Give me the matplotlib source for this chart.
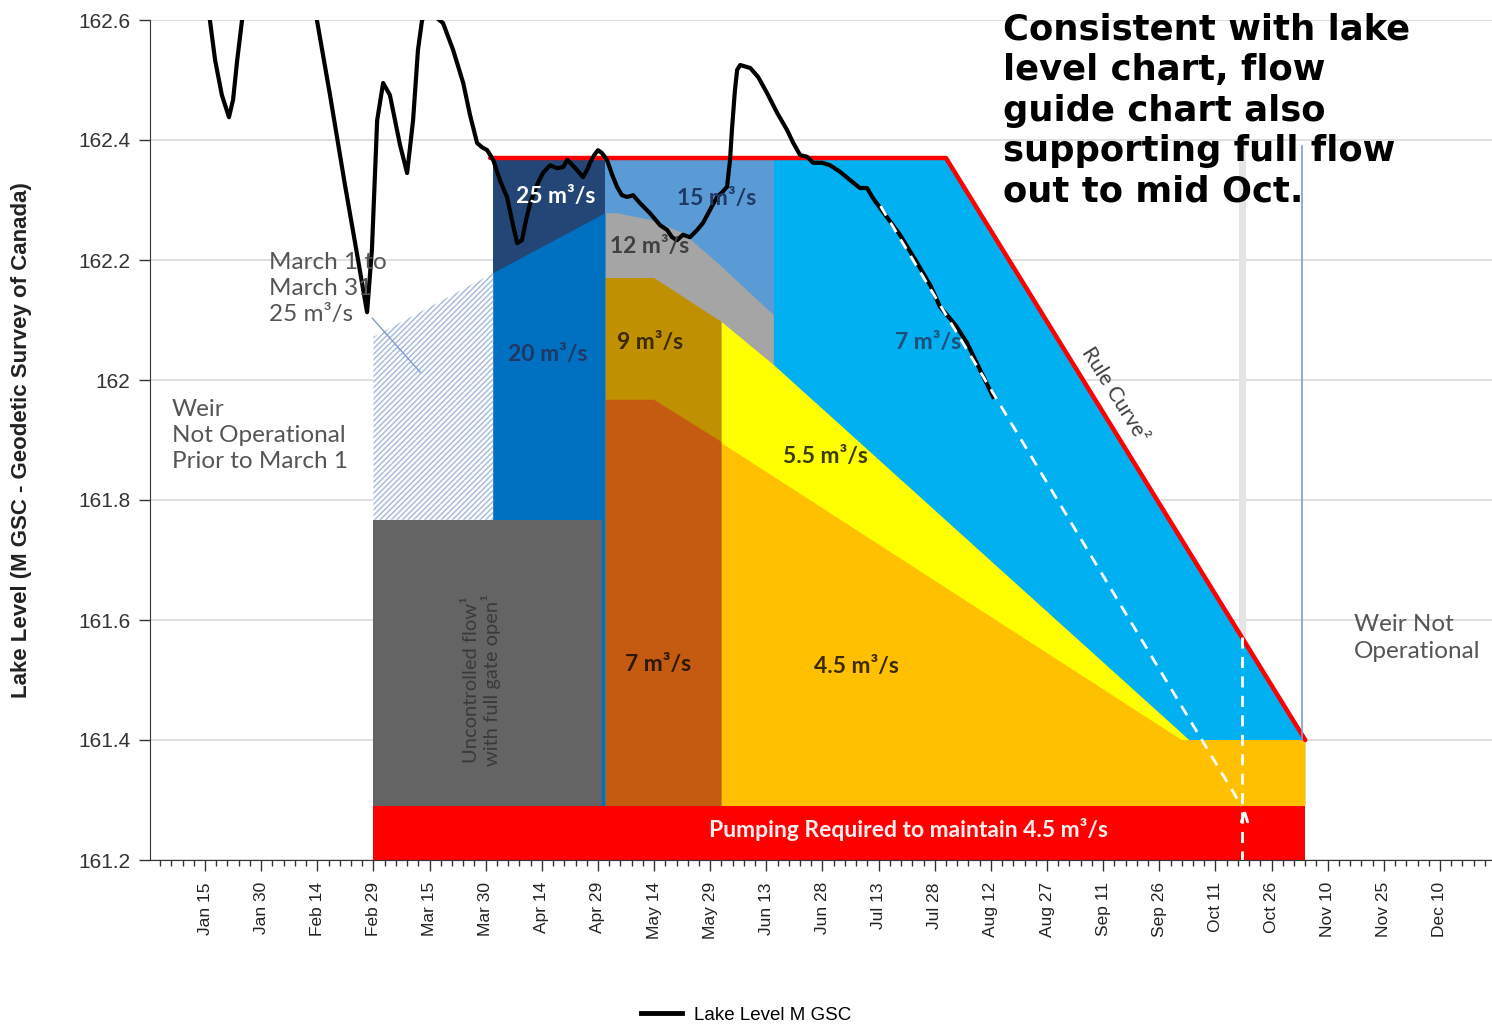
import datetime as dt

import matplotlib
matplotlib.use("Agg")
import matplotlib.pyplot as plt
from matplotlib.ticker import FixedLocator
from matplotlib.lines import Line2D

# x axis = day of year, 0 = Jan 1 (2024 is a leap year, so Feb 29 exists)
year_start = dt.date(2024, 1, 1)

lake_day = [10, 15.3, 16.7, 18.5, 20.4, 21.5, 22.6, 23.9, 30, 40, 43.9, 47.4, 51.4, 54.9,
            57.3, 58.6, 60.0, 61.6, 63.4, 66.1, 68.0, 69.6, 70.9, 72.0, 74.0, 76.0, 77.6,
            80.3, 83.0, 84.8, 86.7, 88.0, 89.4, 91.0, 92.8, 94.7, 96.0, 97.4, 98.7, 99.8,
            100.9, 102.7, 104.3, 106.2, 108.1, 109.7, 110.8, 111.6, 113.4, 115.0, 116.1,
            116.9, 118.0, 119.0, 120.1, 121.4, 122.8, 124.1, 125.4, 126.8, 128.4, 130.2,
            132.9, 135.6, 137.5, 138.8, 140.1, 141.7, 143.6, 145.5, 147.1, 148.9, 150.8,
            152.2, 153.5, 154.3, 154.8, 155.6, 156.2, 157.0, 159.7, 161.8, 164.2, 166.9,
            169.5, 171.2, 173.0, 174.9, 176.5, 178.9, 181.0, 183.7, 186.4, 189.0, 190.9,
            192.5, 195.2, 199.7, 204.3, 207.8, 210.4, 214.5, 217.6, 221.1, 224.6]
lake_level = [162.75, 162.60, 162.533, 162.475, 162.438, 162.467, 162.533, 162.60, 162.75,
              162.75, 162.60, 162.475, 162.325, 162.20, 162.113, 162.217, 162.433, 162.495,
              162.475, 162.392, 162.345, 162.433, 162.55, 162.60, 162.615, 162.603, 162.595,
              162.55, 162.495, 162.442, 162.395, 162.388, 162.383, 162.367, 162.333, 162.305,
              162.267, 162.228, 162.233, 162.267, 162.295, 162.325, 162.345, 162.358,
              162.353, 162.355, 162.367, 162.362, 162.35, 162.338, 162.35, 162.362, 162.375,
              162.383, 162.378, 162.367, 162.342, 162.322, 162.308, 162.305, 162.308,
              162.295, 162.278, 162.258, 162.25, 162.238, 162.233, 162.242, 162.238, 162.25,
              162.262, 162.283, 162.305, 162.313, 162.322, 162.367, 162.417, 162.483,
              162.517, 162.525, 162.52, 162.505, 162.478, 162.445, 162.417, 162.395,
              162.375, 162.372, 162.362, 162.362, 162.358, 162.347, 162.333, 162.32,
              162.32, 162.303, 162.28, 162.242, 162.195, 162.158, 162.122, 162.092,
              162.062, 162.017, 161.972]

# trend extrapolation and mid-October marker
trend_day = [194.5, 291]
trend_level = [162.29, 161.29]
oct_day = 291
oct_top = 161.572

# rule curve
rule_day = [90.2, 212, 308]
rule_level = [162.37, 162.37, 161.40]

# weir not operational line
weir_day = 307.2
weir_levels = [162.39, 161.40]

# flow guide zones (polygons: day, level)
zone7c_x = [166, 166, 212, 308, 308]
zone7c_y = [161.29, 162.37, 162.37, 161.40, 161.29]
zone15_x = [121, 121, 166, 166]
zone15_y = [161.29, 162.37, 162.37, 161.29]
zone12_x = [121, 121, 124, 133, 141.7, 151, 166, 166]
zone12_y = [161.29, 162.278, 162.278, 162.267, 162.245, 162.195, 162.108, 161.29]
zone55_x = [152, 152, 166, 277, 308, 308]
zone55_y = [161.29, 162.097, 162.025, 161.40, 161.40, 161.29]
zone45_x = [152, 152, 275, 308, 308]
zone45_y = [161.29, 161.895, 161.40, 161.40, 161.29]
zone9_x = [121, 121, 134, 152, 152]
zone9_y = [161.29, 162.17, 162.17, 162.097, 161.29]
zone7o_x = [121, 121, 134, 152, 152]
zone7o_y = [161.29, 161.967, 161.967, 161.897, 161.29]
zone25_x = [91, 91, 121, 121]
zone25_y = [161.29, 162.37, 162.37, 161.29]
zone20_x = [91, 91, 121, 121]
zone20_y = [161.29, 162.178, 162.278, 161.29]
march_x = [59, 59, 91, 91]
march_y = [161.767, 162.072, 162.178, 161.767]
uncontrolled_x = [59, 59, 120, 120]
uncontrolled_y = [161.29, 161.767, 161.767, 161.29]
pump_x = [59, 59, 308, 308]
pump_y = [161.20, 161.29, 161.29, 161.20]

major_days = list(range(14, 360, 15))
minor_days = list(range(2, 360, 3))
y_ticks = [161.2, 161.4, 161.6, 161.8, 162.0, 162.2, 162.4, 162.6]


def day_label(d):
    t = year_start + dt.timedelta(days=d)
    return f"{t:%b} {t.day}"


def ylab(v):
    s = f"{v:.1f}"
    return "162" if s == "162.0" else s


plt.rcParams["hatch.linewidth"] = 1.0
fig = plt.figure(figsize=(14.92, 10.27), dpi=100)
ax = fig.add_axes([150 / 1492, 1 - 860 / 1027, 1342 / 1492, 840 / 1027])
ax.set_xlim(-0.7, 357.9)
ax.set_ylim(161.2, 162.6)

ax.plot([oct_day, oct_day], [162.383, 161.2], color="#E4E4E4", lw=5, zorder=1.5)

ax.fill(zone7c_x, zone7c_y, color="#00B0F0", lw=0, zorder=2)
ax.fill(zone15_x, zone15_y, color="#5B9BD5", lw=0, zorder=2)
ax.fill(zone12_x, zone12_y, color="#A5A5A5", lw=0, zorder=2)
ax.fill(zone55_x, zone55_y, color="#FFFF00", lw=0, zorder=2)
ax.fill(zone45_x, zone45_y, color="#FFC000", lw=0, zorder=2)
ax.fill(zone9_x, zone9_y, color="#BF9000", lw=0, zorder=2)
ax.fill(zone7o_x, zone7o_y, color="#C55A11", lw=0, zorder=2)
ax.fill(zone25_x, zone25_y, color="#234677", lw=0, zorder=2)
ax.fill(zone20_x, zone20_y, color="#0070C0", lw=0, zorder=2)
ax.fill(march_x, march_y, facecolor="white", edgecolor="#A3B7DD", hatch="//////",
        lw=0, zorder=2)
ax.fill(uncontrolled_x, uncontrolled_y, color="#646464", lw=0, zorder=2)
ax.fill(pump_x, pump_y, color="#FF0000", lw=0, zorder=2)

ax.plot(rule_day, rule_level, color="#FF0000", lw=3.2, zorder=3, solid_capstyle="round")
ax.plot([weir_day, weir_day], weir_levels, color="#7F9CD3", lw=1.2, zorder=3)
ax.plot([oct_day, oct_day], [oct_top, 161.2], color="white", lw=2, ls=(0, (4, 3)), zorder=5)

ax.plot(lake_day, lake_level, color="black", lw=3.0, zorder=4, label="Lake Level M GSC")
ax.plot(trend_day, trend_level, color="white", lw=2, ls=(0, (4, 3)), zorder=5)
ax.plot([oct_day + 0.6], [161.272], marker=r"$\wedge$", color="white", ms=7, zorder=5)

# March leader line
ax.plot([58.7, 71.5], [162.103, 162.013], color="#7F9CC8", lw=1, zorder=3)

# axes styling
ax.grid(axis="y", color="#D9D9D9", lw=1.2)
ax.set_axisbelow(True)
for s in ["top", "right"]:
    ax.spines[s].set_visible(False)
ax.spines["left"].set_color("#333333")
ax.spines["bottom"].set_color("#333333")
ax.xaxis.set_major_locator(FixedLocator(major_days))
ax.xaxis.set_minor_locator(FixedLocator(minor_days))
ax.set_xticklabels([day_label(d) for d in major_days], rotation=90,
                   family="Liberation Sans", fontsize=12.5, color="#222222")
ax.set_yticks(y_ticks)
ax.set_yticklabels([ylab(v) for v in y_ticks], family="Liberation Sans", fontsize=15,
                   color="#333333")
ax.tick_params(axis="x", which="major", length=8, width=1, pad=8, color="#333333")
ax.tick_params(axis="x", which="minor", length=4, width=1, color="#333333")
ax.tick_params(axis="y", length=8, width=1, pad=6, color="#333333")

fig.text(22 / 1492, 1 - 440 / 1027, "Lake Level (M GSC - Geodetic Survey of Canada)",
         rotation=90, ha="center", va="center", family="Liberation Sans",
         fontweight="bold", fontsize=16, color="#222222")

lbl = dict(family="Lato", fontsize=16.5, fontweight="bold", ha="center", va="center", zorder=6)
ax.text(107.6, 162.305, "25 m³/s", color="white", **lbl)
ax.text(150.8, 162.303, "15 m³/s", color="#1F3864", **lbl)
ax.text(132.9, 162.222, "12 m³/s", color="#404040", **lbl)
ax.text(105.7, 162.042, "20 m³/s", color="#1F3864", **lbl)
ax.text(132.9, 162.063, "9 m³/s", color="#3A2A00", **lbl)
ax.text(207.2, 162.062, "7 m³/s", color="#1F4E79", **lbl)
ax.text(179.7, 161.872, "5.5 m³/s", color="#3B3B00", **lbl)
ax.text(188.2, 161.523, "4.5 m³/s", color="#3D2B00", **lbl)
ax.text(135.1, 161.525, "7 m³/s", color="#2B1A00", **lbl)
ax.text(201.9, 161.25, "Pumping Required to maintain 4.5 m³/s", color="#FFEEEE",
        family="Lato", fontsize=16.5, fontweight="bold", ha="center", va="center", zorder=6)
ax.text(88.0, 161.5, "Uncontrolled flow¹\nwith full gate open¹", color="#3A3A3A",
        family="Lato", fontsize=14.5, rotation=90, ha="center", va="center",
        linespacing=1.1, zorder=6)
ax.text(257.2, 161.975, "Rule Curve²", color="#404040", family="Lato", fontsize=15,
        rotation=-58, ha="center", va="center", zorder=6)

side = dict(family="Lato", fontsize=17.5, color="#555555", va="center", ha="left",
            linespacing=1.3, zorder=6)
ax.text(31, 162.153, "March 1 to\nMarch 31\n25 m³/s", **side)
ax.text(5.2, 161.908, "Weir\nNot Operational\nPrior to March 1", **side)
ax.text(320.9, 161.57, "Weir Not\nOperational", **side)

fig.text(1003 / 1492, 1 - 12 / 1027,
         "Consistent with lake\nlevel chart, flow\nguide chart also\n"
         "supporting full flow\nout to mid Oct.",
         family="DejaVu Sans", fontweight="bold", fontsize=25.5, ha="left", va="top",
         linespacing=1.25, color="black")

handle = Line2D([], [], color="black", lw=3.5)
fig.legend([handle], ["Lake Level M GSC"], loc="center", bbox_to_anchor=(0.5, 1 - 1015 / 1027),
           frameon=False, prop={"family": "Liberation Sans", "size": 13.5},
           handlelength=2.2, handletextpad=0.6)

fig.savefig("out.png", dpi=100)
